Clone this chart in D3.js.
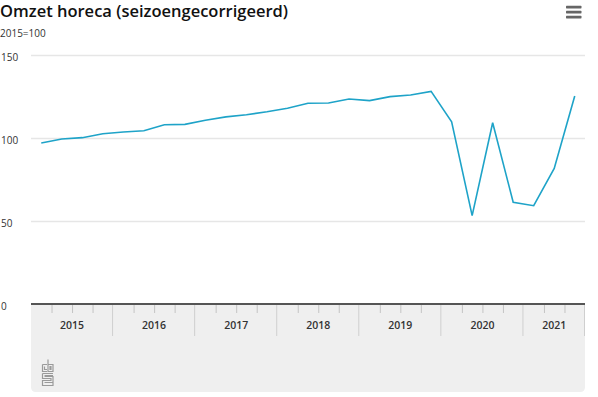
<!DOCTYPE html>
<html>
<head>
	<title>Omzet horeca</title>
	<meta charset='utf-8'>
	<style>
		body {
			margin: 0;
			background: #fff;
		}

		.chart text {
			font-family: 'Open Sans', sans-serif;
			fill: #333;
		}

		.title {
			font-size: 16.5px;
			font-weight: 600;
			fill: #111 !important;
		}

		.subtitle {
			font-size: 10px;
		}

		.grid line {
			stroke: #e6e6e6;
			stroke-width: 1.5px;
		}

		.axis-y text {
			font-size: 10px;
		}

		.baseline {
			stroke: #555;
			stroke-width: 2px;
		}

		.line {
			fill: none;
			stroke: #1ea3c8;
			stroke-width: 1.6px;
		}

		.xbox {
			fill: #efefef;
		}

		.qtick {
			stroke: #c4c4c4;
			stroke-width: 1px;
		}

		.ydiv {
			stroke: #cfcfcf;
			stroke-width: 1px;
		}

		.year-label {
			font-size: 10.5px;
			font-weight: 600;
		}

		.logo path {
			fill: none;
			stroke: #9a9a9a;
			stroke-width: 1.2px;
		}

		.menu rect {
			fill: #666;
		}
	</style>
</head>
<body>

<script src='https://d3js.org/d3.v7.min.js'></script>
<script>
	'use strict';

	// Kwartalen 2015 K1 t/m 2021 K3
	const years = ['2015', '2016', '2017', '2018', '2019', '2020', '2021'];
	const quarters = [
		'2015K1', '2015K2', '2015K3', '2015K4',
		'2016K1', '2016K2', '2016K3', '2016K4',
		'2017K1', '2017K2', '2017K3', '2017K4',
		'2018K1', '2018K2', '2018K3', '2018K4',
		'2019K1', '2019K2', '2019K3', '2019K4',
		'2020K1', '2020K2', '2020K3', '2020K4',
		'2021K1', '2021K2', '2021K3'
	];
	const omzet = [
		97.0, 99.4, 100.2, 102.6,
		103.6, 104.4, 108.0, 108.2,
		110.7, 112.7, 114.0, 115.8,
		117.9, 120.9, 121.1, 123.5,
		122.5, 124.9, 125.9, 128.1,
		109.8, 53.2, 109.2, 61.3,
		59.2, 81.7, 125.3
	];
	const yTicks = [0, 50, 100, 150];

	const W = 598, H = 397;
	const plot = {left: 31, right: 585, top: 55, bottom: 304};

	const data = quarters.map(function(q, i) {
		return {q: q, year: q.slice(0, 4), value: omzet[i]};
	});

	const xScale = d3.scaleBand()
		.domain(quarters)
		.range([plot.left, plot.right])
		.padding(0);

	const yScale = d3.scaleLinear()
		.domain([0, 150])
		.range([plot.bottom, plot.top]);

	const svg = d3.select('body').append('svg')
		.attr('class', 'chart')
		.attr('width', W)
		.attr('height', H);

	// Titel
	svg.append('text')
		.attr('class', 'title')
		.attr('x', 0)
		.attr('y', 17)
		.text('Omzet horeca (seizoengecorrigeerd)');

	svg.append('text')
		.attr('class', 'subtitle')
		.attr('x', 0)
		.attr('y', 37)
		.text('2015=100');

	// Menu-icoon
	const menu = svg.append('g').attr('class', 'menu');
	[7, 12, 17].forEach(function(y) {
		menu.append('rect')
			.attr('x', 566)
			.attr('y', y - 1.2)
			.attr('width', 15.5)
			.attr('height', 2.6)
			.attr('rx', 0.6);
	});

	// Grijze x-as blok
	const boxTop = plot.bottom + 1, boxBottom = 392, r = 5;
	svg.append('path')
		.attr('class', 'xbox')
		.attr('d', 'M' + plot.left + ',' + boxTop +
			'H' + plot.right +
			'V' + (boxBottom - r) +
			'Q' + plot.right + ',' + boxBottom + ' ' + (plot.right - r) + ',' + boxBottom +
			'H' + (plot.left + r) +
			'Q' + plot.left + ',' + boxBottom + ' ' + plot.left + ',' + (boxBottom - r) +
			'Z');

	// Rasterlijnen
	const axisY = d3.axisLeft(yScale)
		.tickValues(yTicks)
		.tickSize(-(plot.right - plot.left))
		.tickFormat(d3.format('d'));

	const gy = svg.append('g')
		.attr('class', 'grid axis-y')
		.attr('transform', 'translate(' + plot.left + ',0)')
		.call(axisY);
	gy.select('.domain').remove();
	gy.selectAll('text')
		.attr('x', -plot.left + 1)
		.attr('y', 1.7)
		.attr('dy', '0.35em')
		.style('text-anchor', 'start');
	gy.selectAll('.tick').filter(function(d) {return d === 0;}).select('line').remove();

	// Kwartaal-tickjes
	svg.append('g').selectAll('line')
		.data(data.filter(function(d, i) {return i % 4 !== 0;}))
		.join('line')
		.attr('class', 'qtick')
		.attr('x1', function(d) {return xScale(d.q) + 0.5;})
		.attr('x2', function(d) {return xScale(d.q) + 0.5;})
		.attr('y1', boxTop)
		.attr('y2', boxTop + 8);

	// Jaar-scheidingen en labels
	const yearInfo = years.map(function(y) {
		const qs = quarters.filter(function(q) {return q.slice(0, 4) === y;});
		const x0 = xScale(qs[0]);
		const x1 = xScale(qs[qs.length - 1]) + xScale.bandwidth();
		return {year: y, x0: x0, x1: x1};
	});

	svg.append('g').selectAll('line')
		.data(yearInfo)
		.join('line')
		.attr('class', 'ydiv')
		.attr('x1', function(d) {return d.x1 - 0.5;})
		.attr('x2', function(d) {return d.x1 - 0.5;})
		.attr('y1', boxTop)
		.attr('y2', 336);

	svg.append('g').selectAll('text')
		.data(yearInfo)
		.join('text')
		.attr('class', 'year-label')
		.attr('x', function(d) {return (d.x0 + d.x1) / 2;})
		.attr('y', 329)
		.attr('text-anchor', 'middle')
		.text(function(d) {return d.year;});

	// Nul-lijn
	svg.append('line')
		.attr('class', 'baseline')
		.attr('x1', plot.left)
		.attr('x2', plot.right)
		.attr('y1', yScale(0))
		.attr('y2', yScale(0));

	// Lijn
	const valueline = d3.line()
		.x(function(d) {return xScale(d.q) + xScale.bandwidth() / 2;})
		.y(function(d) {return yScale(d.value);});

	svg.append('path')
		.datum(data)
		.attr('class', 'line')
		.attr('d', valueline);

	// CBS-logo (vereenvoudigd)
	const logo = svg.append('g')
		.attr('class', 'logo')
		.attr('transform', 'translate(42,359)');
	logo.append('path').attr('d', 'M0.5,5.5 H5 M0.5,5.5 V12.5 H5 M2.5,7.5 V10.5 H5');
	logo.append('path').attr('d', 'M6,0.5 V12.5 H11 V5.5 H6 M8,7.5 H9 V10.5 H8 Z');
	logo.append('path').attr('d', 'M0.5,14.5 H11 M0.5,14.5 V19.5 H9 V21.5 H0.5 V26.5 H11 V17.5 H2.5 M2.5,16.5 H11 M2.5,23.5 H11');
</script>
</body>
</html>
